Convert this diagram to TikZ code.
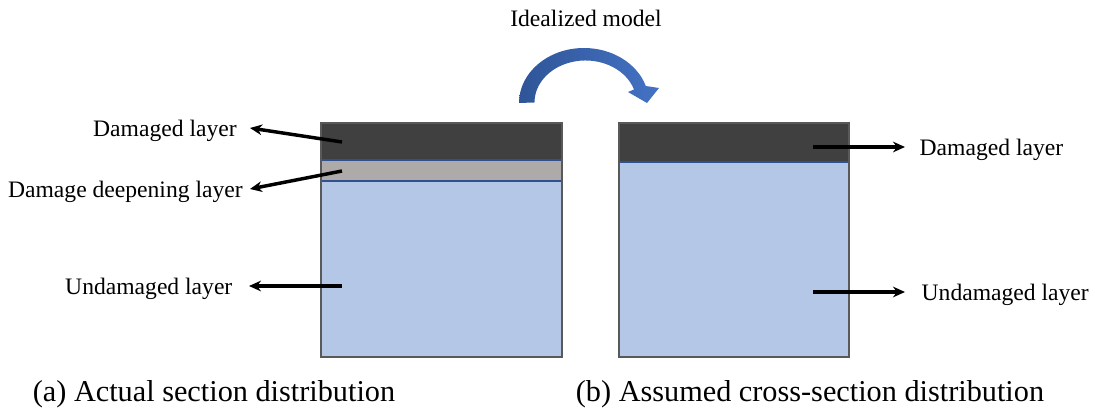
\documentclass[tikz,border=0pt]{standalone}
\usepackage{fontspec}
\setmainfont{Liberation Serif}
\usetikzlibrary{arrows.meta}
\definecolor{dmg}{HTML}{404040}
\definecolor{deep}{HTML}{AEAAAA}
\definecolor{sound}{HTML}{B4C7E7}
\definecolor{edge}{HTML}{2F528F}
\definecolor{bendL}{HTML}{2F5597}
\definecolor{bendR}{HTML}{4472C4}
\begin{document}
\begin{tikzpicture}[x=0.75pt,y=-0.75pt,
  lbl/.style={font=\fontsize{17.7}{20}\selectfont,inner sep=0pt,outer sep=10pt,text height=12pt,text depth=0pt},
  captext/.style={font=\fontsize{22.7}{26}\selectfont,inner sep=0pt,anchor=base},
  pointer/.style={-{Stealth[length=9pt,width=8pt]},line width=2.6pt}]
\useasboundingbox (0,0) rectangle (1095,410);

% (a) actual section
\begin{scope}
\fill[sound] (321,181) rectangle (562,357);
\fill[deep] (321,160) rectangle (562,181);
\fill[dmg] (321,123) rectangle (562,160);
\draw[edge,line width=0.8pt] (321,160) -- (562,160) (321,181) -- (562,181);
\draw[black!65,line width=1pt] (321,123) rectangle (562,357);
\end{scope}

% (b) assumed section
\begin{scope}
\fill[sound] (619,162) rectangle (849,357);
\fill[dmg] (619,123) rectangle (849,162);
\draw[edge,line width=0.8pt] (619,162) -- (849,162);
\draw[black!65,line width=1pt] (619,123) rectangle (849,357);
\end{scope}

% idealization arrow
\node[lbl,anchor=base,outer sep=0pt] (idm) at (586,27) {Idealized model};
\shade[left color=bendL,right color=bendR] (519,103)
  arc[start angle=180,end angle=342,x radius=65,y radius=55]
  -- (659,88) -- (647,103) -- (628,92) -- (634,89.5)
  arc[start angle=342,end angle=180,x radius=51,y radius=42] -- cycle;

% labels
\coordinate (aD) at (342,142);
\coordinate (aP) at (342,171);
\coordinate (aU) at (342,286);
\coordinate (bD) at (813,147);
\coordinate (bU) at (813,292);
\node[lbl,anchor=east] (aDl) at (250,128) {Damaged layer};
\node[lbl,anchor=east,outer sep=5.5pt] (aPl) at (250,189) {Damage deepening layer};
\node[lbl,anchor=east,outer sep=12.5pt] (aUl) at (249,286) {Undamaged layer};
\node[lbl,anchor=west,outer sep=11pt] (bDl) at (905,147) {Damaged layer};
\node[lbl,anchor=west,outer sep=12.5pt] (bUl) at (905,292) {Undamaged layer};
\draw[pointer] (aD) -- (aDl.east);
\draw[pointer] (aP) -- (aPl.east);
\draw[pointer] (aU) -- (aUl.east);
\draw[pointer] (bD) -- (bDl.west);
\draw[pointer] (bU) -- (bUl.west);

% captions
\node[captext] (capA) at (214,401) {(a) Actual section distribution};
\node[captext] (capB) at (810,401) {(b) Assumed cross-section distribution};
\end{tikzpicture}
\end{document}
